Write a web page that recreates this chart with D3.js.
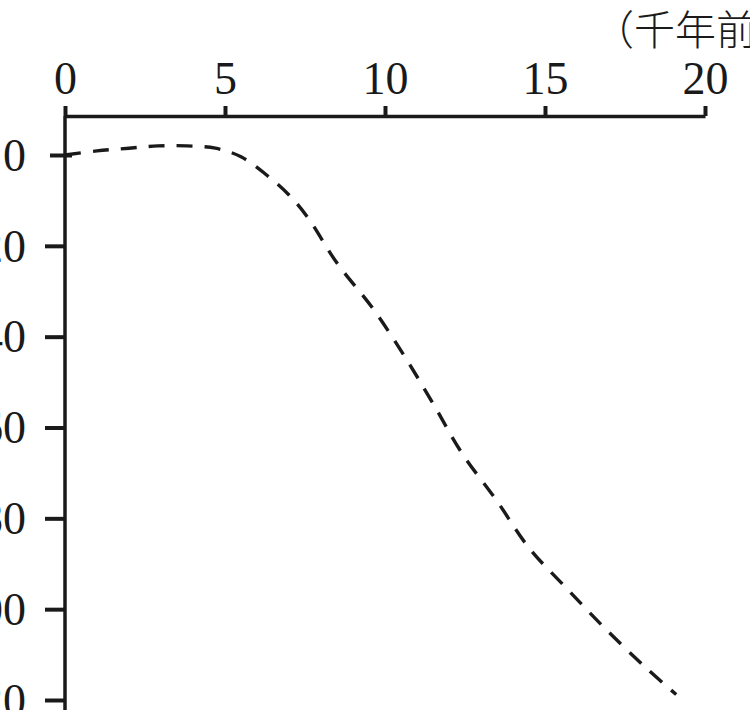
<!DOCTYPE html>
<html><head><meta charset="utf-8">
<script src="https://cdn.jsdelivr.net/npm/d3@7"></script>
<style>
html,body{margin:0;padding:0;background:#fff;overflow:hidden;}
svg{display:block;}
</style></head>
<body>
<script>
// Data
const xTicks = [0, 5, 10, 15, 20];
const yTicks = [0, -20, -40, -60, -80, -100, -120];
const yTickLabels = ["0", "-20", "-40", "-60", "-80", "-100", "-120"];
const unitLabel = "（千年前）";
const years  = [0, 1, 2, 2.9, 3.8, 4.7, 5.5, 6.3, 7, 7.6, 8.5, 9.6, 10.6, 11.5, 12.4, 13.5, 14.5, 15.7, 16.9, 18.2, 19.1];
const levels = [0, 0.9, 1.5, 2, 2, 1.5, -0.4, -4.4, -8.8, -13.9, -23.8, -33.6, -44.2, -54.7, -65.6, -76.2, -86.5, -95.6, -104.4, -113.2, -118.8];

const W = 750, H = 710;
const svg = d3.select("body").append("svg").attr("width", W).attr("height", H);
const ink = "#1a1a1a";
const serif = "'Liberation Serif','Times New Roman',Times,serif";

const x = d3.scaleLinear().domain([0, 20]).range([65, 705]);
const y = d3.scaleLinear().domain([0, -120]).range([155, 700]);
const axisY = 116;

// X axis (top)
const gx = svg.append("g").attr("transform", `translate(0,${axisY})`)
  .call(d3.axisTop(x).tickValues(xTicks).tickSize(10).tickSizeOuter(0).tickPadding(12).tickFormat(d3.format("d")));
gx.select(".domain").attr("stroke", ink).attr("stroke-width", 3.5);
gx.selectAll(".tick line").attr("stroke", ink).attr("stroke-width", 4);
gx.selectAll(".tick text").attr("fill", ink)
  .style("font-family", serif).style("font-size", "46px");

// Y axis (left)
const gy = svg.append("g").attr("transform", "translate(65,0)")
  .call(d3.axisLeft(y).tickValues(yTicks).tickSize(20).tickSizeOuter(0).tickPadding(19)
    .tickFormat((d, i) => yTickLabels[i]));
gy.select(".domain").attr("stroke", ink).attr("stroke-width", 3.5)
  .attr("d", `M0,${axisY}V${H + 5}`);
gy.selectAll(".tick line").attr("stroke", ink).attr("stroke-width", 4);
gy.selectAll(".tick text").attr("fill", ink)
  .style("font-family", serif).style("font-size", "46px")
  .attr("x", -39).attr("dy", "0.33em");
gy.selectAll(".tick").filter(d => d === 0).select("line").attr("x1", 7).attr("x2", -15);

// Unit label
svg.append("text").attr("x", 593).attr("y", 45)
  .attr("fill", ink)
  .style("font-family", "'Noto Sans CJK SC','Noto Sans CJK JP',sans-serif")
  .style("font-size", "41px").style("font-weight", 300)
  .text(unitLabel);

// Curve
const pts = years.map((v, i) => [v, levels[i]]);
const line = d3.line().x(d => x(d[0])).y(d => y(d[1])).curve(d3.curveCatmullRom.alpha(0.5));
svg.append("path").datum(pts).attr("d", line)
  .attr("fill", "none").attr("stroke", ink).attr("stroke-width", 3.4)
  .attr("stroke-dasharray", "16 12");
</script>
</body></html>
